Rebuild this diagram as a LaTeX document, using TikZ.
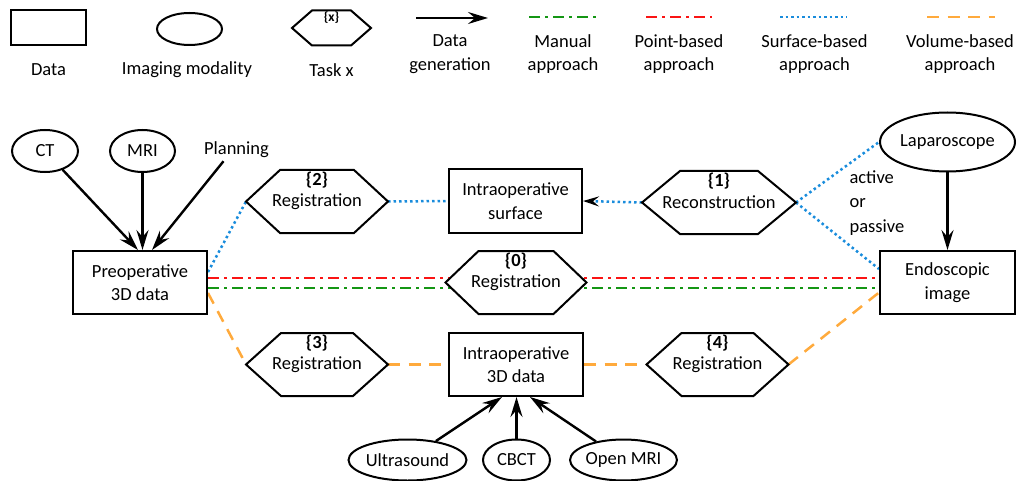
\documentclass[tikz,border=0pt]{standalone}
\usepackage{fontspec}
\setmainfont{Carlito}
\usetikzlibrary{shapes.geometric,arrows.meta,calc}
\pgfdeclarelayer{bg}
\pgfsetlayers{bg,main}
\definecolor{cgreen}{RGB}{20,150,20}
\definecolor{cred}{RGB}{250,20,20}
\definecolor{cblue}{RGB}{25,140,220}
\definecolor{corange}{RGB}{255,170,60}
\tikzset{
  base/.style={font=\fontsize{18.5}{23.5}\selectfont, text=black, align=center},
  databox/.style={base, draw, fill=white, line width=2pt, inner sep=0pt},
  modal/.style={base, draw, ellipse, fill=white, line width=2pt, inner sep=0pt},
  gen/.style={line width=2.4pt, -{Stealth[length=20pt,width=12pt,inset=7pt]}},
  manual/.style={cgreen, line width=2.5pt, dash pattern=on 11pt off 5pt on 3pt off 5pt},
  pointb/.style={cred, line width=2.5pt, dash pattern=on 11pt off 5pt on 3pt off 5pt},
  surfb/.style={cblue, line width=2.5pt, dash pattern=on 2.5pt off 3pt},
  volb/.style={corange, line width=2.5pt, dash pattern=on 12pt off 8.5pt},
  hexline/.style={draw, line width=2pt, fill=white, line join=miter},
  numfont/.style={font=\fontsize{18.5}{20}\selectfont\bfseries},
  smallnum/.style={font=\fontsize{13.5}{15}\selectfont\bfseries},
}
% name, (x,y), width, height, chamfer, number, number style, yshift
\newcommand\myhex[8]{%
  \node[minimum width=#3pt, minimum height=#4pt, inner sep=0pt, outer sep=0pt] (#1) at #2 {};
  \draw[hexline] (#1.west) -- ($(#1.north west)+(#5,0)$) -- ($(#1.north east)+(-#5,0)$)
     -- (#1.east) -- ($(#1.south east)+(-#5,0)$) -- ($(#1.south west)+(#5,0)$) -- cycle;
  \node[#7, anchor=north, inner sep=0pt] (#1n) at ([yshift=-#8pt]#1.north) {\{#6\}};
}
\begin{document}
\begin{tikzpicture}[x=1pt,y=-1pt]
\useasboundingbox (0,0) rectangle (1019,481);

% ---------------- legend ----------------
\node[databox, minimum width=75pt, minimum height=35pt] (lgdata) at (48.5,27.5) {};
\node[base] (lgdatat) at (48.5,70) {Data};
\node[modal, minimum width=65pt, minimum height=32pt] (lgmod) at (189.5,29) {};
\node[base] (lgmodt) at (187,70) {Imaging modality};
\myhex{lghex}{(331.5,28)}{79}{35}{20}{x}{smallnum}{1}
\node[base] (lghext) at (331.5,70) {Task x};
\coordinate (la1) at (416,18);
\coordinate (la2) at (488,18);
\draw[gen] (la1) -- (la2);
\node[base] (lgent) at (450,54) {Data\\generation};
\coordinate (lm1) at (529,17); \coordinate (lm2) at (596,17);
\draw[manual] (lm1) -- (lm2);
\node[base] (lmt) at (563,54) {Manual\\approach};
\coordinate (lp1) at (646,17); \coordinate (lp2) at (712,17);
\draw[pointb] (lp1) -- (lp2);
\node[base] (lpt) at (679,54) {Point-based\\approach};
\coordinate (ls1) at (780,17); \coordinate (ls2) at (847,17);
\draw[surfb] (ls1) -- (ls2);
\node[base] (lst) at (814.5,54) {Surface-based\\approach};
\coordinate (lv1) at (927,17); \coordinate (lv2) at (995,17);
\draw[volb] (lv1) -- (lv2);
\node[base] (lvt) at (960,54) {Volume-based\\approach};

% ---------------- main nodes ----------------
\node[modal, minimum width=66pt, minimum height=42pt] (ct) at (45,151) {CT};
\node[modal, minimum width=65pt, minimum height=42pt] (mri) at (142.5,151) {MRI};
\node[base, inner sep=1pt] (plan) at (236.5,150) {Planning};
\node[databox, minimum width=134pt, minimum height=63pt] (preop) at (140,282.5) {Preoperative\\3D data};

\node[databox, minimum width=133pt, minimum height=64pt] (surf) at (515.5,201) {Intraoperative\\surface};
\node[databox, minimum width=134pt, minimum height=63pt] (iop) at (516,364.5) {Intraoperative\\3D data};
\node[databox, minimum width=135pt, minimum height=63pt] (endo) at (947.5,282.5) {Endoscopic\\image};
\node[modal, minimum width=135pt, minimum height=59pt] (lap) at (947.5,142) {Laparoscope};
\node[base, align=left, anchor=west, font=\fontsize{18.5}{24.5}\selectfont] (apnote) at (846,203) {active\\or\\passive};

\node[modal, minimum width=102pt, minimum height=41pt] (us) at (407.5,460) {Ultrasound};
\node[modal, minimum width=67pt, minimum height=41pt] (cbct) at (516.5,460) {CBCT};
\node[modal, minimum width=93pt, minimum height=41pt] (omri) at (623.5,460) {Open MRI};

\myhex{h2}{(317,201.5)}{142}{63}{34}{2}{numfont}{2}
\node[base] (h2t) at (h2) {Registration};
\myhex{h0}{(516,282.5)}{141}{63}{33}{0}{numfont}{2}
\node[base] (h0t) at (h0) {Registration};
\myhex{h1}{(719,202.5)}{154}{63}{38}{1}{numfont}{2}
\node[base] (h1t) at (h1) {Reconstruction};
\myhex{h3}{(317,364.5)}{142}{63}{35}{3}{numfont}{2}
\node[base] (h3t) at (h3) {Registration};
\myhex{h4}{(717.5,364.5)}{142}{63}{35}{4}{numfont}{2}
\node[base] (h4t) at (h4) {Registration};

% ---------------- connectors ----------------
\begin{pgfonlayer}{bg}
\draw[pointb] ([yshift=4.5pt]preop.east) -- ([yshift=4.5pt]endo.west);
\draw[manual] ([yshift=-5.5pt]preop.east) -- ([yshift=-5.5pt]endo.west);
\draw[surfb] ([yshift=10.5pt]preop.east) -- (h2.west);
\draw[surfb] (h2.east) -- (surf.west);
\draw[surfb, -{Stealth[length=16pt,width=10pt,inset=6pt,color=black,fill=black]}] (h1.west) -- (surf.east);
\draw[surfb] (h1.east) -- (lap.west);
\draw[surfb] (h1.east) -- ([yshift=13.5pt]endo.west);
\draw[volb] ([yshift=-10.5pt]preop.east) -- (h3.west);
\draw[volb] (h3.east) -- (iop.west);
\draw[volb] (iop.east) -- (h4.west);
\draw[volb] (h4.east) -- ([yshift=-10pt]endo.west);
\end{pgfonlayer}

\draw[gen] (ct) -- ([xshift=-2pt]preop.north);
\draw[gen] (mri.south) -- (mri.south |- preop.north);
\draw[gen] ([xshift=-13pt,yshift=-2pt]plan.south) -- ([xshift=12pt]preop.north);
\draw[gen] (lap) -- (endo);
\draw[gen] (us) -- ([xshift=-14pt]iop.south);
\draw[gen] (cbct) -- (cbct |- iop.south);
\draw[gen] (omri) -- ([xshift=14pt]iop.south);
\end{tikzpicture}
\end{document}
